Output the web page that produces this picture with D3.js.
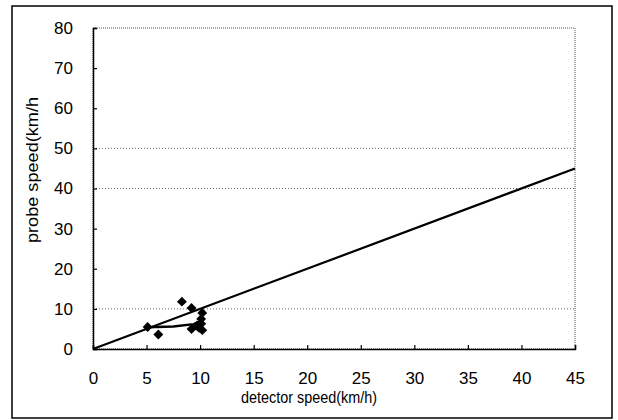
<!DOCTYPE html>
<html><head><meta charset="utf-8">
<script src="https://d3js.org/d3.v7.min.js"></script>
<style>body{margin:0;background:#fff}svg{display:block}</style>
</head><body>
<script>
const xTicks=[0,5,10,15,20,25,30,35,40,45];
const yTicks=[0,10,20,30,40,50,60,70,80];
const gridValues=[10,40,50];
const pointX=[5.1,6.1,8.3,9.2,10.2,9.2,9.7,10.1,10.1,10.2,9.9];
const pointY=[5.5,3.6,11.8,10.2,9.0,5.0,5.8,7.5,6.3,4.7,5.3];
const lineX=[5.1,7.5,9.4,10.1];
const lineY=[5.4,5.6,6.2,7.0];
const refX=[0,45];
const refY=[0,45];

const W=618,H=420;
const svg=d3.select("body").append("svg").attr("width",W).attr("height",H);
svg.append("rect").attr("x",12).attr("y",6).attr("width",600).attr("height",412)
  .attr("fill","none").attr("stroke","#000").attr("stroke-width",1.5);

const x=d3.scaleLinear().domain([0,45]).range([93,575]);
const y=d3.scaleLinear().domain([0,80]).range([349,28]);

svg.append("rect").attr("x",93).attr("y",28).attr("width",482).attr("height",321)
  .attr("fill","none").attr("stroke","#555").attr("stroke-width",1).attr("stroke-dasharray","1,1");

svg.selectAll(".grid").data(gridValues).enter().append("line")
  .attr("x1",93).attr("x2",575).attr("y1",d=>y(d)).attr("y2",d=>y(d))
  .attr("stroke","#666").attr("stroke-width",1).attr("stroke-dasharray","1,2");

const font="Liberation Sans, Arial, sans-serif";
const gx=svg.append("g").attr("transform","translate(0,349)")
  .call(d3.axisBottom(x).tickValues(xTicks).tickSize(-4).tickPadding(23).tickFormat(d3.format("d")));
const gy=svg.append("g").attr("transform","translate(93,0)")
  .call(d3.axisLeft(y).tickValues(yTicks).tickSize(-4).tickPadding(20).tickFormat(d3.format("d")));
[gx,gy].forEach(g=>{
  g.select(".domain").attr("stroke","#000").attr("stroke-width",1.5);
  g.selectAll(".tick line").attr("stroke","#000").attr("stroke-width",1.2);
  g.selectAll("text").attr("font-family",font).attr("font-size",17).attr("fill","#000");
});

svg.append("line").attr("x1",x(refX[0])).attr("y1",y(refY[0])).attr("x2",x(refX[1])).attr("y2",y(refY[1]))
  .attr("stroke","#000").attr("stroke-width",2.2);

const lineData=lineX.map((v,i)=>[v,lineY[i]]);
svg.append("path").datum(lineData)
  .attr("d",d3.line().x(d=>x(d[0])).y(d=>y(d[1])))
  .attr("fill","none").attr("stroke","#000").attr("stroke-width",2.5);

const pts=pointX.map((v,i)=>[v,pointY[i]]);
svg.selectAll(".pt").data(pts).enter().append("path")
  .attr("transform",d=>`translate(${x(d[0])},${y(d[1])}) rotate(45)`)
  .attr("d",d3.symbol().type(d3.symbolSquare).size(49))
  .attr("fill","#000");

svg.append("text").attr("x",309).attr("y",403).attr("text-anchor","middle")
  .attr("font-family",font).attr("font-size",16)
  .attr("textLength",136).attr("lengthAdjust","spacingAndGlyphs").text("detector speed(km/h)");
svg.append("text").attr("transform","translate(38,170) rotate(-90)").attr("text-anchor","middle")
  .attr("font-family",font).attr("font-size",17)
  .attr("textLength",146).attr("lengthAdjust","spacingAndGlyphs").text("probe speed(km/h");
</script>
</body></html>
